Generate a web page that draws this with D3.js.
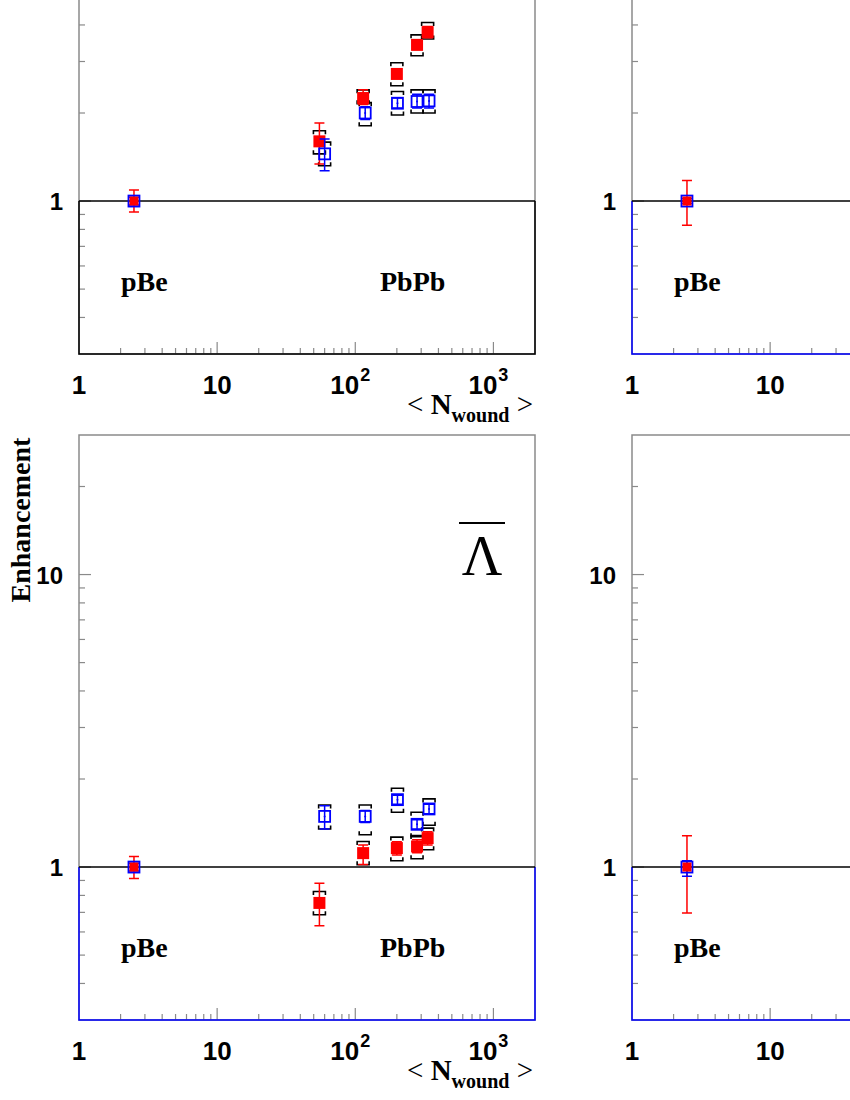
<!DOCTYPE html>
<html>
<head>
<meta charset="utf-8">
<script src="https://cdn.jsdelivr.net/npm/d3@7"></script>
<style>
  body { margin: 0; background: #fff; }
  svg { display: block; }
</style>
</head>
<body>
<script>
// ---- data ----
// N_wound of the PbPb centrality classes, two data sets
const nwRed = [55, 114, 200, 280, 334];
const nwBlue = [60, 118, 202, 280, 342];
const nwPBe = 2.5;

// Lambda (top-left panel)
const lamRed = [1.60, 2.25, 2.72, 3.42, 3.78];
const lamRedStatLo = [1.34, 2.14, 2.63, 3.30, 3.62];
const lamRedStatHi = [1.85, 2.40, 2.82, 3.55, 3.95];
const lamRedSysLo = [1.45, 2.15, 2.48, 3.14, 3.58];
const lamRedSysHi = [1.74, 2.40, 2.97, 3.70, 4.08];
const lamBlue = [1.45, 2.00, 2.16, 2.19, 2.20];
const lamBlueStatLo = [1.27, 1.90, 2.08, 2.08, 2.08];
const lamBlueStatHi = [1.63, 2.10, 2.25, 2.32, 2.32];
const lamBlueSysLo = [1.32, 1.81, 1.97, 2.00, 2.00];
const lamBlueSysHi = [1.59, 2.17, 2.37, 2.40, 2.40];

// anti-Lambda (bottom-left panel)
const alamRed = [0.754, 1.116, 1.161, 1.176, 1.256];
const alamRedStatLo = [0.63, 1.02, 1.10, 1.12, 1.19];
const alamRedStatHi = [0.88, 1.19, 1.22, 1.24, 1.32];
const alamRedSysLo = [0.687, 1.018, 1.051, 1.067, 1.146];
const alamRedSysHi = [0.825, 1.223, 1.266, 1.282, 1.359];
const alamBlue = [1.49, 1.49, 1.70, 1.40, 1.58];
const alamBlueStatLo = [1.35, 1.42, 1.64, 1.35, 1.52];
const alamBlueStatHi = [1.62, 1.56, 1.76, 1.45, 1.64];
const alamBlueSysLo = [1.35, 1.29, 1.54, 1.27, 1.39];
const alamBlueSysHi = [1.63, 1.63, 1.86, 1.54, 1.71];

// pBe reference points: [top-left, top-right, bottom-left, bottom-right]
const pbeRedLo = [0.917, 0.826, 0.914, 0.696];
const pbeRedHi = [1.09, 1.175, 1.087, 1.28];
const pbeBlueLo = [0.97, 0.98, 0.97, 0.93];
const pbeBlueHi = [1.03, 1.02, 1.03, 1.05];

const xMajor = [1, 10, 100, 1000];
const xMajorExp = [0, 1, 2, 3];
const yMajor = [1, 10];

// ---- layout ----
const W = 850, H = 1100;
const PW = 456, PH = 585;
const colX = [79, 632];
const rowY = [-231, 435];
const FRAME = "#8a8a8a";
const RED = "#ff0000", BLUE = "#0000ff";

const svg = d3.select("body").append("svg")
    .attr("width", W)
    .attr("height", H);

const x = d3.scaleLog().domain([1, 2000]).range([0, PW]);
const y = d3.scaleLog().domain([0.3, 30]).range([PH, 0]);

// minor tick positions
const xMinor = [];
for (let d = 1; d < 2000; d *= 10)
    for (let k = 2; k <= 9; k++) if (d * k < 2000) xMinor.push(d * k);
const yMinor = [0.3, 0.4, 0.5, 0.6, 0.7, 0.8, 0.9, 2, 3, 4, 5, 6, 7, 8, 9, 20, 30]
    .filter(v => v > 0.3 && v < 30);

function makeSeries(nw, v, sLo, sHi, yLo, yHi) {
    return nw.map((n, i) => ({n: n, v: v[i], lo: sLo[i], hi: sHi[i], ylo: yLo[i], yhi: yHi[i]}));
}

const panels = [
    {col: 0, row: 0, boxColor: "#000", idx: 0,
     red: makeSeries(nwRed, lamRed, lamRedStatLo, lamRedStatHi, lamRedSysLo, lamRedSysHi),
     blue: makeSeries(nwBlue, lamBlue, lamBlueStatLo, lamBlueStatHi, lamBlueSysLo, lamBlueSysHi),
     pbpb: true},
    {col: 1, row: 0, boxColor: BLUE, idx: 1, red: [], blue: [], pbpb: false},
    {col: 0, row: 1, boxColor: BLUE, idx: 2,
     red: makeSeries(nwRed, alamRed, alamRedStatLo, alamRedStatHi, alamRedSysLo, alamRedSysHi),
     blue: makeSeries(nwBlue, alamBlue, alamBlueStatLo, alamBlueStatHi, alamBlueSysLo, alamBlueSysHi),
     pbpb: true, symbol: "\u039B"},
    {col: 1, row: 1, boxColor: BLUE, idx: 3, red: [], blue: [], pbpb: false}
];

// only texts that land inside the picture are written
function visible(ox, oy, tx, ty, w) {
    const ax = ox + tx, ay = oy + ty;
    return ax - w >= 0 && ax + w <= W && ay - 20 >= 0 && ay <= H;
}

function drawBrackets(g, data, color) {
    const half = 6, leg = 3.5;
    const br = g.append("g").attr("fill", "none").attr("stroke", color).attr("stroke-width", 1.6);
    br.selectAll("path.top").data(data).enter().append("path")
        .attr("d", d => {
            const cx = x(d.n), cy = y(d.yhi);
            return `M${cx - half},${cy + leg}V${cy}H${cx + half}V${cy + leg}`;
        });
    br.selectAll("path.bot").data(data).enter().append("path")
        .attr("d", d => {
            const cx = x(d.n), cy = y(d.ylo);
            return `M${cx - half},${cy - leg}V${cy}H${cx + half}V${cy - leg}`;
        });
}

function drawErrors(g, data, color) {
    const cap = 5;
    const e = g.append("g").attr("stroke", color).attr("stroke-width", 1.5).attr("fill", "none");
    e.selectAll("path").data(data).enter().append("path")
        .attr("d", d => {
            const cx = x(d.n), t = y(d.hi), b = y(d.lo);
            return `M${cx},${t}V${b}M${cx - cap},${t}H${cx + cap}M${cx - cap},${b}H${cx + cap}`;
        });
}

function drawRedMarkers(g, data) {
    g.append("g").selectAll("rect").data(data).enter().append("rect")
        .attr("x", d => x(d.n) - 6)
        .attr("y", d => y(d.v) - 6)
        .attr("width", 12)
        .attr("height", 12)
        .attr("fill", RED);
}

function drawBlueMarkers(g, data) {
    const m = g.append("g");
    m.selectAll("rect").data(data).enter().append("rect")
        .attr("x", d => x(d.n) - 5.5)
        .attr("y", d => y(d.v) - 5.5)
        .attr("width", 11)
        .attr("height", 11)
        .attr("fill", "none")
        .attr("stroke", BLUE)
        .attr("stroke-width", 1.8);
    m.selectAll("circle").data(data).enter().append("circle")
        .attr("cx", d => x(d.n))
        .attr("cy", d => y(d.v))
        .attr("r", 1)
        .attr("fill", BLUE);
}

for (const p of panels) {
    const ox = colX[p.col], oy = rowY[p.row];
    const g = svg.append("g")
        .attr("transform", `translate(${ox},${oy})`);

    // frame
    g.append("rect")
        .attr("x", 0).attr("y", 0)
        .attr("width", PW).attr("height", PH)
        .attr("fill", "none")
        .attr("stroke", FRAME)
        .attr("stroke-width", 1.5);

    // ticks along the bottom and the left side (drawn inside)
    const ax = g.append("g").attr("stroke", FRAME).attr("stroke-width", 1.2);
    ax.selectAll("line.xmin").data(xMinor).enter().append("line")
        .attr("x1", d => x(d)).attr("x2", d => x(d))
        .attr("y1", PH).attr("y2", PH - 6);
    ax.selectAll("line.xmaj").data(xMajor.slice(1)).enter().append("line")
        .attr("x1", d => x(d)).attr("x2", d => x(d))
        .attr("y1", PH).attr("y2", PH - 12);
    ax.selectAll("line.ymin").data(yMinor).enter().append("line")
        .attr("x1", 0).attr("x2", 6)
        .attr("y1", d => y(d)).attr("y2", d => y(d));
    ax.selectAll("line.ymaj").data(yMajor).enter().append("line")
        .attr("x1", 0).attr("x2", 12)
        .attr("y1", d => y(d)).attr("y2", d => y(d));

    // box below unity
    const y1 = y(1);
    g.append("path")
        .attr("d", `M0,${y1}V${PH}H${PW}V${y1}`)
        .attr("fill", "none")
        .attr("stroke", p.boxColor)
        .attr("stroke-width", 1.5);
    g.append("line")
        .attr("x1", 0).attr("x2", PW)
        .attr("y1", y1).attr("y2", y1)
        .attr("stroke", "#000")
        .attr("stroke-width", 1.5);

    // x tick labels
    const xl = g.append("g")
        .attr("font-family", "'Liberation Sans', Arial, sans-serif")
        .attr("font-weight", "bold")
        .attr("fill", "#000");
    xMajor.forEach((v, i) => {
        const tx = x(v) + (xMajorExp[i] >= 2 ? -5 : 0), ty = PH + 40;
        if (!visible(ox, oy, tx, ty, 16)) return;
        const t = xl.append("text")
            .attr("x", tx)
            .attr("y", ty)
            .attr("text-anchor", "middle")
            .style("font-size", "26px");
        if (xMajorExp[i] < 2) {
            t.text(v);
        } else {
            t.append("tspan").text("10");
            t.append("tspan").attr("dy", -13).attr("dx", 1).style("font-size", "18px").text(xMajorExp[i]);
        }
    });

    // y tick labels
    yMajor.forEach(v => {
        if (!visible(ox, oy, -16, y(v) + 9, 0)) return;
        xl.append("text")
            .attr("x", -16)
            .attr("y", y(v) + 9)
            .attr("text-anchor", "end")
            .style("font-size", "24px")
            .text(v);
    });

    // x title
    if (visible(ox, oy, PW - 2, PH + 60, 0) && ox + PW <= W) {
        const xt = g.append("text")
            .attr("x", PW - 2)
            .attr("y", PH + 60)
            .attr("text-anchor", "end")
            .attr("font-family", "'Liberation Serif', 'Times New Roman', serif")
            .style("font-size", "29px")
            .attr("fill", "#000");
        xt.append("tspan").text("< ");
        xt.append("tspan").attr("font-weight", "bold").text("N");
        xt.append("tspan").attr("font-weight", "bold").style("font-size", "20px").attr("dy", 8).text("wound");
        xt.append("tspan").attr("dy", -8).text(" >");
    }

    // system labels
    const lab = g.append("g")
        .attr("font-family", "'Liberation Serif', 'Times New Roman', serif")
        .attr("font-weight", "bold")
        .style("font-size", "28px")
        .attr("fill", "#000");
    lab.append("text").attr("x", 42).attr("y", PH - 63).text("pBe");
    if (p.pbpb) lab.append("text").attr("x", 301).attr("y", PH - 63).text("PbPb");

    if (p.symbol) {
        const sx = 403, sy = 140;
        g.append("text")
            .attr("x", sx)
            .attr("y", sy)
            .attr("text-anchor", "middle")
            .attr("font-family", "'Liberation Serif', 'Times New Roman', serif")
            .style("font-size", "56px")
            .attr("fill", "#000")
            .text(p.symbol);
        g.append("line")
            .attr("x1", sx - 23).attr("x2", sx + 23)
            .attr("y1", sy - 52).attr("y2", sy - 52)
            .attr("stroke", "#000")
            .attr("stroke-width", 2.2);
    }

    // data points
    const pts = g.append("g");
    const pbeRed = [{n: nwPBe, v: 1, lo: pbeRedLo[p.idx], hi: pbeRedHi[p.idx]}];
    const pbeBlue = [{n: nwPBe, v: 1, lo: pbeBlueLo[p.idx], hi: pbeBlueHi[p.idx]}];

    drawBrackets(pts, p.blue, "#000");
    drawBrackets(pts, p.red, "#000");
    drawErrors(pts, p.red.concat(pbeRed), RED);
    drawRedMarkers(pts, p.red);
    drawErrors(pts, p.blue.concat(pbeBlue), BLUE);
    drawBlueMarkers(pts, p.blue);
    // pBe: blue open square around the red one
    drawBlueMarkers(pts, pbeBlue);
    pts.append("rect")
        .attr("x", x(nwPBe) - 4.5).attr("y", y(1) - 4.5)
        .attr("width", 9).attr("height", 9)
        .attr("fill", RED);
}

// common y title
svg.append("text")
    .attr("transform", "translate(30,520) rotate(-90)")
    .attr("text-anchor", "middle")
    .attr("font-family", "'Liberation Serif', 'Times New Roman', serif")
    .attr("font-weight", "bold")
    .style("font-size", "28px")
    .attr("fill", "#000")
    .text("Enhancement");
</script>
</body>
</html>
